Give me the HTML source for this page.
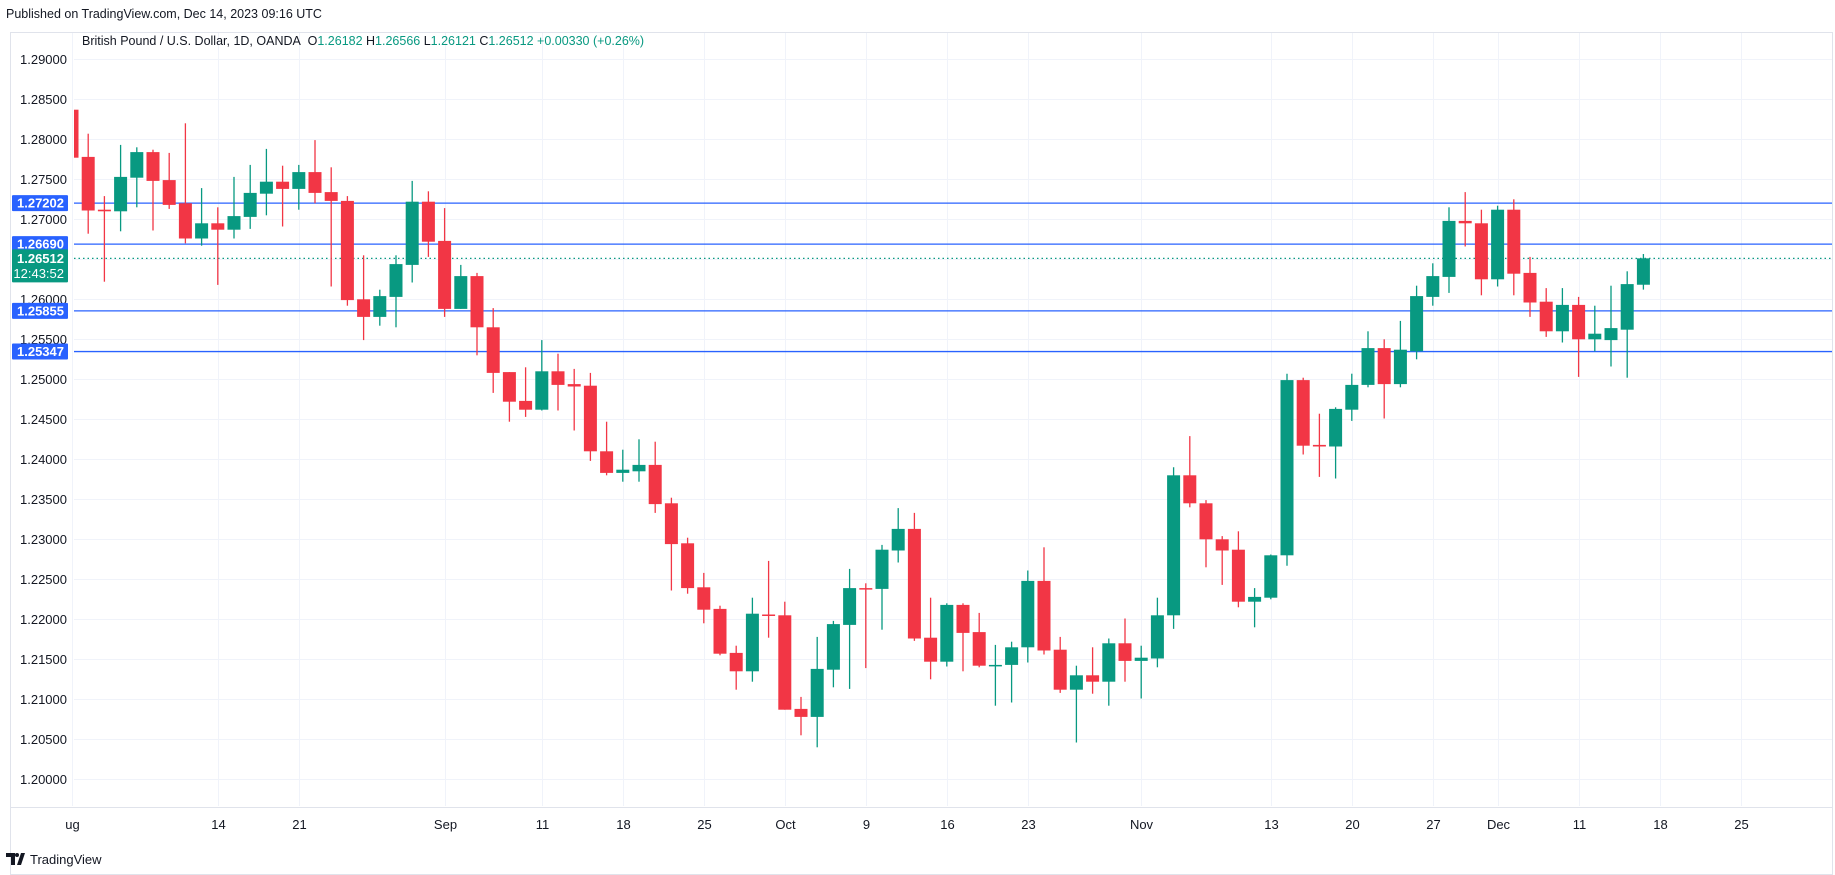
<!DOCTYPE html>
<html><head><meta charset="utf-8"><style>
html,body{margin:0;padding:0;background:#fff;width:1835px;height:875px;overflow:hidden;font-family:"Liberation Sans",sans-serif}
</style></head><body>
<svg id="chart" width="1835" height="875" xmlns="http://www.w3.org/2000/svg" font-family="Liberation Sans, sans-serif">
<text x="6" y="18" font-size="12.5" fill="#131722">Published on TradingView.com, Dec 14, 2023 09:16 UTC</text>
<rect x="10.5" y="32.5" width="1822" height="842" fill="none" stroke="#e0e3eb"/>
<g id="grid"></g>
<g id="hlines"></g>
<g id="candles" clip-path="url(#plotclip)"></g>
<clipPath id="plotclip"><rect x="74" y="33" width="1758" height="773"/></clipPath>
<g id="yaxis"></g>
<g id="xaxis"></g>
<line x1="11" y1="807.5" x2="1832" y2="807.5" stroke="#e0e3eb"/>
<text x="82" y="45" font-size="12.5" fill="#131722">British Pound / U.S. Dollar, 1D, OANDA <tspan dx="4">O</tspan><tspan fill="#089981">1.26182</tspan> H<tspan fill="#089981">1.26566</tspan> L<tspan fill="#089981">1.26121</tspan> C<tspan fill="#089981">1.26512</tspan><tspan fill="#089981"> +0.00330 (+0.26%)</tspan></text>
<g>
<path d="M6 853h9v12h-4v-8h-5z M17 865l4-12h4l-4 12z" fill="#131722"/>
<circle cx="17" cy="855" r="2" fill="#131722"/>
<text x="30" y="864" font-size="13" fill="#131722">TradingView</text>
</g>
</svg>
<script>
const opens=[1.2837,1.2778,1.2712,1.2710,1.2752,1.2784,1.2749,1.2720,1.2676,1.2695,1.2687,1.2703,1.2732,1.2747,1.2738,1.2759,1.2734,1.2723,1.2600,1.2578,1.2603,1.2643,1.2722,1.2673,1.2588,1.2629,1.2565,1.2509,1.2473,1.2462,1.2510,1.2494,1.2492,1.2410,1.2383,1.2385,1.2393,1.2345,1.2295,1.2240,1.2213,1.2158,1.2135,1.2206,1.2205,1.2088,1.2078,1.2137,1.2193,1.2239,1.2238,1.2286,1.2313,1.2177,1.2147,1.2218,1.2184,1.2142,1.2143,1.2165,1.2248,1.2162,1.2112,1.2130,1.2122,1.2170,1.2148,1.2151,1.2205,1.2380,1.2345,1.2300,1.2287,1.2222,1.2227,1.2280,1.2499,1.2418,1.2416,1.2462,1.2493,1.2539,1.2494,1.2535,1.2603,1.2628,1.2698,1.2695,1.2625,1.2712,1.2633,1.2597,1.2560,1.2593,1.2550,1.2549,1.2562,1.26182];
const highs=[1.2840,1.2807,1.2729,1.2793,1.2790,1.2787,1.2783,1.2820,1.2739,1.2715,1.2753,1.2768,1.2788,1.2767,1.2768,1.2799,1.2765,1.2729,1.2655,1.2612,1.2655,1.2748,1.2735,1.2714,1.2643,1.2633,1.2589,1.2509,1.2515,1.2549,1.2532,1.2513,1.2508,1.2447,1.2412,1.2425,1.2422,1.2352,1.2302,1.2258,1.2217,1.2167,1.2227,1.2273,1.2222,1.2103,1.2178,1.2198,1.2263,1.2245,1.2293,1.2339,1.2333,1.2227,1.2220,1.2220,1.2208,1.2168,1.2172,1.2261,1.2290,1.2178,1.2142,1.2165,1.2176,1.2201,1.2167,1.2227,1.2390,1.2429,1.2349,1.2304,1.2310,1.2239,1.2281,1.2507,1.2502,1.2457,1.2465,1.2507,1.2560,1.2550,1.2573,1.2617,1.2645,1.2715,1.2734,1.2712,1.2717,1.2725,1.2653,1.2614,1.2614,1.2603,1.2592,1.2617,1.2635,1.26566];
const lows=[1.2776,1.2682,1.2622,1.2685,1.2715,1.2686,1.2713,1.2670,1.2667,1.2618,1.2676,1.2688,1.2705,1.2691,1.2712,1.2720,1.2616,1.2592,1.2549,1.2567,1.2565,1.2621,1.2653,1.2578,1.2588,1.2530,1.2483,1.2447,1.2453,1.2461,1.2461,1.2436,1.2398,1.2380,1.2372,1.2372,1.2333,1.2236,1.2232,1.2195,1.2155,1.2112,1.2122,1.2177,1.2087,1.2055,1.2040,1.2115,1.2113,1.2139,1.2187,1.2271,1.2173,1.2125,1.2141,1.2135,1.2140,1.2092,1.2096,1.2146,1.2156,1.2108,1.2046,1.2107,1.2092,1.2122,1.2101,1.2140,1.2188,1.2340,1.2265,1.2243,1.2215,1.2190,1.2225,1.2267,1.2406,1.2378,1.2376,1.2448,1.2490,1.2451,1.2490,1.2525,1.2592,1.2608,1.2666,1.2605,1.2616,1.2605,1.2578,1.2553,1.2546,1.2503,1.2535,1.2516,1.2502,1.26121];
const closes=[1.2777,1.2711,1.2710,1.2753,1.2784,1.2748,1.2718,1.2676,1.2695,1.2687,1.2704,1.2733,1.2747,1.2738,1.2759,1.2733,1.2723,1.2599,1.2578,1.2604,1.2644,1.2722,1.2672,1.2588,1.2629,1.2565,1.2508,1.2472,1.2462,1.2510,1.2493,1.2491,1.2410,1.2383,1.2387,1.2393,1.2344,1.2294,1.2239,1.2212,1.2157,1.2135,1.2207,1.2205,1.2087,1.2078,1.2138,1.2194,1.2239,1.2238,1.2287,1.2313,1.2176,1.2147,1.2218,1.2183,1.2142,1.2143,1.2165,1.2248,1.2161,1.2112,1.2130,1.2122,1.2170,1.2148,1.2152,1.2205,1.2380,1.2345,1.2300,1.2286,1.2222,1.2228,1.2280,1.2499,1.2417,1.2416,1.2463,1.2493,1.2539,1.2494,1.2537,1.2604,1.2629,1.2698,1.2695,1.2625,1.2712,1.2632,1.2596,1.2560,1.2593,1.2550,1.2557,1.2564,1.2619,1.26512];
const xTickIdx=[0,9,14,23,29,34,39,44,49,54,59,66,74,79,84,88,93,98,103];
const xTickLabels=["ug","14","21","Sep","11","18","25","Oct","9","16","23","Nov","13","20","27","Dec","11","18","25"];
const yTicks=[1.20,1.205,1.21,1.215,1.22,1.225,1.23,1.235,1.24,1.245,1.25,1.255,1.26,1.265,1.27,1.275,1.28,1.285,1.29];
const levels=[1.27202,1.26690,1.25855,1.25347];
const lastPrice=1.26512;
const lastTime="12:43:52";

const NS="http://www.w3.org/2000/svg";
const yS=p=>59.3+(1.29-p)*8000;
const xS=i=>72+16.2*i;
function mk(tag,attrs,parent){const e=document.createElementNS(NS,tag);for(const k in attrs)e.setAttribute(k,attrs[k]);parent.appendChild(e);return e;}
const grid=document.getElementById('grid'),hl=document.getElementById('hlines'),cg=document.getElementById('candles'),ya=document.getElementById('yaxis'),xa=document.getElementById('xaxis');
yTicks.forEach(t=>{
  const y=Math.round(yS(t))+0.5;
  const l=mk('line',{x1:74,x2:1832,y1:y,y2:y,stroke:'#f0f3fa','stroke-width':1},grid);
  
  
  const tx=mk('text',{x:67,y:y+4.5,'text-anchor':'end','font-size':13,fill:'#131722'},ya);
  tx.textContent=t.toFixed(5);
  
  
});
xTickIdx.forEach((i,k)=>{
  const x=Math.round(xS(i))+0.5;
  const l=mk('line',{x1:x,x2:x,y1:33,y2:806,stroke:'#f0f3fa','stroke-width':1},grid);
  
  
  const tx=mk('text',{x:x,y:829,'text-anchor':'middle','font-size':13,fill:'#131722'},xa);
  tx.textContent=xTickLabels[k];
  
  
});
opens.forEach((o,i)=>{
  const c=closes[i],up=c>=o,col=up?'#089981':'#f23645',x=xS(i);
  const g=mk('g',{},cg);
  
  
  mk('line',{x1:x,x2:x,y1:yS(highs[i]),y2:yS(lows[i]),stroke:col,'stroke-width':1.3},g);
  const top=yS(Math.max(o,c)),h=Math.max(1.5,yS(Math.min(o,c))-top);
  mk('rect',{x:x-6.5,y:top,width:13,height:h,fill:col},g);
});
levels.forEach(v=>{
  const y=yS(v);
  const l=mk('line',{x1:74,x2:1832,y1:y,y2:y,stroke:'#2962ff','stroke-width':1.3},hl);
  
  
  const r=mk('rect',{x:12,y:y-8,width:56,height:16,fill:'#2962ff',rx:1},ya);
  
  
  const t=mk('text',{x:64,y:y+4.5,'text-anchor':'end','font-size':13,'font-weight':'bold',fill:'#fff'},ya);
  t.textContent=v.toFixed(5);
  
  
});
(function(){
  const y=yS(lastPrice);
  const l=mk('line',{x1:74,x2:1832,y1:y,y2:y,stroke:'#089981','stroke-width':1.3,'stroke-dasharray':'1.5 3'},hl);
  
  
  const r=mk('rect',{x:12,y:y-9,width:56,height:33,fill:'#089981',rx:1},ya);
  
  
  const t=mk('text',{x:64,y:y+4.5,'text-anchor':'end','font-size':13,'font-weight':'bold',fill:'#fff'},ya);
  t.textContent=lastPrice.toFixed(5);
  
  
  const t2=mk('text',{x:64,y:y+19.5,'text-anchor':'end','font-size':13,fill:'#fff'},ya);
  t2.textContent=lastTime;
  
  
})();
</script>
</body></html>
